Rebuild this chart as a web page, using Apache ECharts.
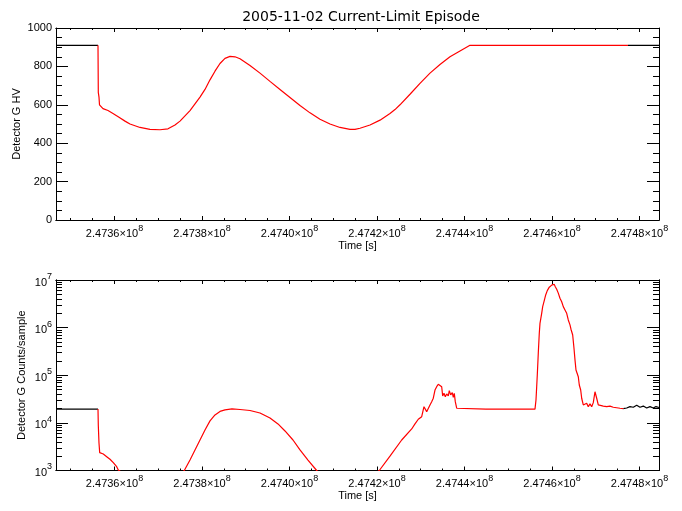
<!DOCTYPE html>
<html><head><meta charset="utf-8">
<script src="https://cdn.jsdelivr.net/npm/echarts@6/dist/echarts.min.js"></script>
<style>html,body{margin:0;padding:0;background:#fff}#c{width:682px;height:511px}</style>
</head><body><div id="c"></div>
<script>
// ---------- data ----------
const X_MIN = 247346630, X_MAX = 247484460;
const xMajorTicks = [247360000, 247380000, 247400000, 247420000, 247440000, 247460000, 247480000];
const xTickLabels = ['2.4736', '2.4738', '2.4740', '2.4742', '2.4744', '2.4746', '2.4748'];
const hvTicks = [0, 200, 400, 600, 800, 1000];
const logMajorTicks = [1e3, 1e4, 1e5, 1e6, 1e7];
const logTickExp = ['3', '4', '5', '6', '7'];

// Red (active) interval boundaries
const RED_START = 247356229;
const RED_END_HV = 247477371;
const RED_END_CNT = 247476297;

// Detector G HV
const hvTime = [247346630, 247356229, 247356297, 247356457, 247356571, 247356686, 247357371, 247358514, 247359657, 247361029,
  247362400, 247363543, 247365829, 247368114, 247370400, 247372228, 247373829, 247374971, 247377257, 247379543,
  247380686, 247381829, 247382971, 247384114, 247385257, 247386400, 247387543, 247388686, 247390971, 247393257,
  247395543, 247397829, 247400114, 247402400, 247404686, 247406971, 247409257, 247411543, 247413829, 247414971,
  247416114, 247418400, 247420686, 247422971, 247424114, 247425257, 247427543, 247429829, 247432114, 247434400,
  247436686, 247438971, 247441257, 247477371, 247484457];
const hvValue = [910, 910, 665, 640, 600, 590, 580, 570, 555, 535,
  515, 500, 482, 472, 470, 475, 495, 515, 570, 640,
  680, 730, 775, 815, 842, 852, 850, 840, 805, 765,
  722, 680, 638, 596, 558, 525, 500, 482, 472, 472,
  478, 495, 520, 555, 575, 600, 655, 712, 765, 810,
  850, 880, 910, 910, 910];

// Detector G counts/sample, [time, counts]
const countsPre = [[247346630, 19500], [247356229, 19500], [247356297, 9040], [247356457, 3780], [247356617, 2370],
  [247357440, 2220], [247358217, 1950], [247358971, 1720], [247359726, 1460], [247360503, 1200], [247360869, 1020],
  [247363543, 700], [247368114, 350], [247372686, 400], [247374971, 800]];
const countsHump = [[247375954, 1000], [247377257, 1660], [247378400, 2700], [247379543, 4370], [247380686, 7100],
  [247381829, 11000], [247382971, 14700], [247384114, 17400], [247385257, 18700], [247386857, 19600],
  [247388686, 19100], [247390971, 18200], [247393257, 16100], [247395543, 12700], [247397371, 9500],
  [247398971, 6760], [247400800, 4370], [247402400, 2700], [247404228, 1660], [247406217, 1000],
  [247409257, 600], [247413829, 400], [247418400, 700]];
const countsBump = [[247420525, 1000], [247422971, 2000], [247425645, 4370], [247427931, 7450], [247428686, 9500],
  [247429440, 11900], [247430217, 13500], [247430742, 21900], [247431360, 17200], [247432114, 23800],
  [247432502, 27900], [247432868, 32900], [247433257, 49000], [247433645, 57500], [247434011, 64600],
  [247434400, 62500], [247434788, 57500], [247435017, 36700], [247435314, 41700], [247435611, 35500],
  [247435931, 40500], [247436297, 36700], [247436525, 47500], [247436845, 38600], [247437211, 43000],
  [247437440, 34500], [247437668, 41700], [247437897, 27900], [247438217, 20300], [247438583, 19500],
  [247444914, 19500], [247445074, 20500], [247445257, 19500], [247456114, 19500]];
const countsFlare = [[247456343, 30200], [247456503, 57500], [247456640, 101000], [247456868, 290000],
  [247457097, 760000], [247457257, 1230000], [247457645, 2000000], [247457874, 2750000], [247458171, 3500000],
  [247458560, 4860000], [247458925, 5990000], [247459382, 7070000], [247459703, 7500000], [247460000, 7900000],
  [247460297, 7500000], [247460526, 8100000], [247460754, 7200000], [247461074, 6400000], [247461440, 5300000],
  [247461828, 4150000], [247462217, 3500000], [247462583, 2760000], [247462971, 2350000], [247463360, 2000000],
  [247463726, 1450000], [247464114, 1140000], [247464342, 925000], [247464731, 700000], [247465028, 370000],
  [247465257, 210000], [247465486, 129000], [247465783, 119000], [247466011, 93000], [247466240, 62500],
  [247466560, 49000], [247466788, 32900], [247467154, 23800]];
const countsTail = [[247467543, 21900], [247467931, 25800], [247468297, 21900], [247468686, 25000],
  [247469074, 21900], [247469440, 26600], [247469828, 45000], [247470217, 32900], [247470583, 23800],
  [247470971, 21900], [247471726, 22500], [247472503, 21900], [247473257, 22500], [247474011, 21300],
  [247475543, 20300], [247476297, 20000], [247477074, 20500], [247477828, 21900], [247478583, 21300],
  [247479360, 23500], [247480114, 21300], [247480868, 22500], [247481645, 20500], [247482400, 21900],
  [247483154, 20500], [247483771, 22000], [247484457, 21000]];

// ---------- build ----------
const xMinorTicks = [];
for (let t = 247345000; t <= X_MAX; t += 5000) xMinorTicks.push(t);
const logMinorTicks = [];
for (let e = 3; e < 7; e++) for (let m = 2; m <= 9; m++) logMinorTicks.push(m * Math.pow(10, e));

const hvPairs = hvTime.map((t, i) => [t, hvValue[i]]);
const hvRed = hvPairs.filter(p => p[0] >= RED_START && p[0] <= RED_END_HV);
const hvBlackL = hvPairs.filter(p => p[0] <= RED_START);
const hvBlackR = hvPairs.filter(p => p[0] >= RED_END_HV);

const counts = [].concat(countsPre, countsHump, countsBump, countsFlare, countsTail);
const cRed = counts.filter(p => p[0] >= RED_START && p[0] <= RED_END_CNT);
const cBlackL = counts.filter(p => p[0] <= RED_START);
const cBlackR = counts.filter(p => p[0] >= RED_END_CNT);

const FONT = 'Liberation Sans';
const BLACK = '#000000';
const RED = '#ff0000';

function xAx(grid, pos, ticks, len, labels) {
  const a = {
    type: 'value', gridIndex: grid, position: pos, min: X_MIN, max: X_MAX,
    axisLine: { show: true, onZero: false, lineStyle: { color: BLACK, width: 1 } },
    axisTick: { show: true, inside: true, length: len, customValues: ticks, lineStyle: { color: BLACK, width: 1 } },
    splitLine: { show: false },
    axisLabel: { show: false }
  };
  if (labels) {
    a.axisLabel = {
      show: true, customValues: xMajorTicks, margin: 4, color: BLACK, fontFamily: FONT,
      formatter: v => {
        const i = xMajorTicks.indexOf(v);
        return '{m|' + (i >= 0 ? xTickLabels[i] : '') + '×10}{s|8}';
      },
      rich: {
        m: { fontSize: 11, fontFamily: FONT, color: BLACK, verticalAlign: 'bottom', lineHeight: 15 },
        s: { fontSize: 9, fontFamily: FONT, color: BLACK, verticalAlign: 'top', lineHeight: 15 }
      }
    };
    a.name = 'Time [s]';
    a.nameLocation = 'middle';
    a.nameGap = 20;
    a.nameTextStyle = { fontFamily: FONT, fontSize: 11, color: BLACK };
  }
  return a;
}

function hvY(pos, labels) {
  const a = {
    type: 'value', gridIndex: 0, position: pos, min: 0, max: 1000, interval: 200,
    axisLine: { show: true, onZero: false, lineStyle: { color: BLACK, width: 1 } },
    axisTick: { show: true, inside: true, length: 12, lineStyle: { color: BLACK, width: 1 } },
    minorTick: { show: true, splitNumber: 4, length: 6, lineStyle: { color: BLACK, width: 1 } },
    splitLine: { show: false }, minorSplitLine: { show: false },
    axisLabel: { show: false }
  };
  if (labels) {
    a.axisLabel = {
      show: true, margin: 4, color: BLACK, fontFamily: FONT, fontSize: 11,
      formatter: v => String(v)
    };
    a.name = 'Detector G HV';
    a.nameLocation = 'middle';
    a.nameGap = 34;
    a.nameMoveOverlap = false;
    a.nameTextStyle = { fontFamily: FONT, fontSize: 11, color: BLACK };
  }
  return a;
}

function cY(pos, ticks, len, labels) {
  const a = {
    type: 'log', logBase: 10, gridIndex: 1, position: pos, min: 1e3, max: 1e7,
    axisLine: { show: true, onZero: false, lineStyle: { color: BLACK, width: 1 } },
    axisTick: { show: true, inside: true, length: len, customValues: ticks, lineStyle: { color: BLACK, width: 1 } },
    splitLine: { show: false },
    axisLabel: { show: false }
  };
  if (labels) {
    a.axisLabel = {
      show: true, customValues: logMajorTicks, margin: 4, color: BLACK, fontFamily: FONT,
      formatter: v => {
        let i = -1;
        logMajorTicks.forEach((m, k) => { if (Math.abs(m - v) / m < 1e-6) i = k; });
        return '{m|10}{s|' + (i >= 0 ? logTickExp[i] : '') + '}';
      },
      rich: {
        m: { fontSize: 11, fontFamily: FONT, color: BLACK, verticalAlign: 'bottom', lineHeight: 16 },
        s: { fontSize: 9, fontFamily: FONT, color: BLACK, verticalAlign: 'top', lineHeight: 16 }
      }
    };
    a.name = 'Detector G Counts/sample';
    a.nameLocation = 'middle';
    a.nameGap = 29;
    a.nameMoveOverlap = false;
    a.nameTextStyle = { fontFamily: FONT, fontSize: 11, color: BLACK };
  }
  return a;
}

function line(data, color, xi, yi) {
  return {
    type: 'line', data: data, xAxisIndex: xi, yAxisIndex: yi,
    showSymbol: false, symbol: 'none', clip: true, silent: true,
    lineStyle: { color: color, width: 1.2 }, z: 5
  };
}

const chart = echarts.init(document.getElementById('c'), null, { renderer: 'canvas' });
chart.setOption({
  backgroundColor: '#ffffff',
  animation: false,
  graphic: [{
    type: 'text', x: 361, y: 17,
    style: {
      text: '2005-11-02 Current-Limit Episode', font: '14px "DejaVu Sans"', fill: BLACK,
      align: 'center', verticalAlign: 'middle', textAlign: 'center', textVerticalAlign: 'middle'
    }
  }],
  grid: [
    { left: 56, right: 23, top: 28, height: 192, containLabel: false, outerBoundsMode: 'none' },
    { left: 56, right: 23, top: 280, height: 190.5, containLabel: false, outerBoundsMode: 'none' }
  ],
  xAxis: [
    xAx(0, 'bottom', xMajorTicks, 4, true),
    xAx(0, 'bottom', xMinorTicks, 2, false),
    xAx(0, 'top', xMajorTicks, 4, false),
    xAx(0, 'top', xMinorTicks, 2, false),
    xAx(1, 'bottom', xMajorTicks, 4, true),
    xAx(1, 'bottom', xMinorTicks, 2, false),
    xAx(1, 'top', xMajorTicks, 4, false),
    xAx(1, 'top', xMinorTicks, 2, false)
  ],
  yAxis: [
    hvY('left', true),
    hvY('right', false),
    cY('left', logMajorTicks, 12, true),
    cY('left', logMinorTicks, 6, false),
    cY('right', logMajorTicks, 12, false),
    cY('right', logMinorTicks, 6, false)
  ],
  series: [
    line(hvBlackL, BLACK, 0, 0),
    line(hvBlackR, BLACK, 0, 0),
    line(hvRed, RED, 0, 0),
    line(cBlackL, BLACK, 4, 2),
    line(cBlackR, BLACK, 4, 2),
    line(cRed, RED, 4, 2)
  ]
});
</script>
</body></html>
